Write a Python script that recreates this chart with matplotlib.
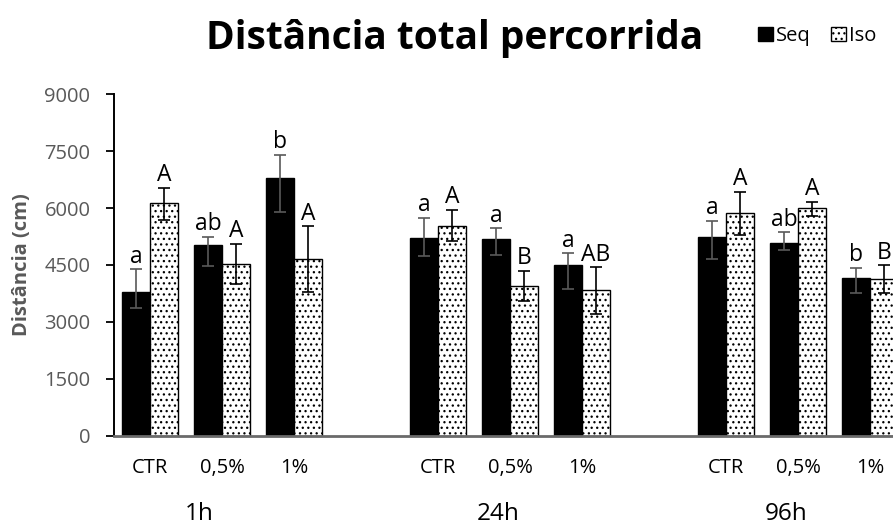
import matplotlib
matplotlib.use("Agg")
import matplotlib.pyplot as plt
import matplotlib.transforms as mtransforms
from matplotlib.patches import Patch
import numpy as np

plt.rcParams['font.family'] = ['Open Sans', 'DejaVu Sans']
plt.rcParams['hatch.linewidth'] = 0.9
plt.rcParams['hatch.color'] = 'black'

# ---- data ----
groups = ['1h', '24h', '96h']
doses = ['CTR', '0,5%', '1%']

seq_mean = [3800, 5020, 6790, 5200, 5180, 4490, 5230, 5090, 4170]
seq_err_low = [440, 540, 880, 460, 410, 630, 580, 200, 400]
seq_err_high = [590, 230, 610, 540, 290, 320, 440, 270, 260]
seq_letters = ['a', 'ab', 'b', 'a', 'a', 'a', 'a', 'ab', 'b']

iso_mean = [6130, 4530, 4660, 5530, 3950, 3840, 5860, 5990, 4120]
iso_err_low = [440, 520, 870, 410, 390, 630, 570, 190, 370]
iso_err_high = [410, 520, 860, 420, 390, 600, 570, 180, 370]
iso_letters = ['A', 'A', 'A', 'A', 'B', 'AB', 'A', 'A', 'B']

y_ticks = [0, 1500, 3000, 4500, 6000, 7500, 9000]

# ---- layout ----
W, H = 893, 527
fig = plt.figure(figsize=(W / 100, H / 100), dpi=100)
cat_px = 72.0
left_px, bottom_px, top_px = 114.0, 435.7, 94.3
n_slots = 11
ax = fig.add_axes([left_px / W, (H - bottom_px) / H,
                   n_slots * cat_px / W, (bottom_px - top_px) / H])

pos = np.array([g * 4 + i for g in range(len(groups)) for i in range(len(doses))], dtype=float)
bw = 0.385

ax.bar(pos - bw / 2, seq_mean, width=bw, color='black', edgecolor='black',
       linewidth=1.0, zorder=2)
ax.bar(pos + bw / 2, iso_mean, width=bw, color='white', edgecolor='black',
       linewidth=1.0, hatch='...', zorder=2)

ax.errorbar(pos - bw / 2, seq_mean, yerr=[seq_err_low, seq_err_high], fmt='none',
            ecolor='#595959', elinewidth=1.2, capsize=4.2, capthick=1.2, zorder=3)
ax.errorbar(pos + bw / 2, iso_mean, yerr=[iso_err_low, iso_err_high], fmt='none',
            ecolor='black', elinewidth=1.2, capsize=4.2, capthick=1.2, zorder=3)

gap = 175
for x, m, e, t in zip(pos - bw / 2, seq_mean, seq_err_high, seq_letters):
    ax.text(x, m + e + gap, t, ha='center', va='baseline', fontsize=16.5, color='black',
            clip_on=False)
for x, m, e, t in zip(pos + bw / 2, iso_mean, iso_err_high, iso_letters):
    ax.text(x, m + e + gap, t, ha='center', va='baseline', fontsize=16.5, color='black',
            clip_on=False)

ax.set_xlim(-0.5, n_slots - 0.5)
ax.set_ylim(0, 9000)

ax.set_xticks(pos)
ax.set_xticklabels(doses * len(groups), fontsize=14.5, color='black')
ax.tick_params(axis='x', length=0, pad=16)

ax.set_yticks(y_ticks)
ax.set_yticklabels([str(v) for v in y_ticks], fontsize=14.5, color='#595959')
ax.tick_params(axis='y', direction='out', length=6, width=1.3, color='black', pad=11)

for s in ['top', 'right']:
    ax.spines[s].set_visible(False)
ax.spines['left'].set_linewidth(1.4)
ax.spines['left'].set_color('black')
ax.spines['bottom'].set_linewidth(2.0)
ax.spines['bottom'].set_color('#6a6a6a')
ax.spines['bottom'].set_zorder(4)

ax.set_ylabel('Distância (cm)', fontsize=14.5, fontweight='bold', color='#595959')
ax.yaxis.set_label_coords(-(left_px - 32) / (n_slots * cat_px), 0.5)

# group labels
trans = mtransforms.blended_transform_factory(ax.transData, fig.transFigure)
group_x = [0.69, 4.83, 8.84]
for gx, g in zip(group_x, groups):
    ax.text(gx, 1 - 514 / H, g, transform=trans, ha='center', va='center',
            fontsize=17.5, color='black', clip_on=False)

fig.text(455 / W, 1 - 38 / H, 'Distância total percorrida', ha='center', va='center',
         fontsize=28, fontweight='bold', color='black')

handles = [Patch(facecolor='black', edgecolor='black', label='Seq'),
           Patch(facecolor='white', edgecolor='black', hatch='...', label='Iso')]
fig.legend(handles=handles, loc='center left', bbox_to_anchor=(758 / W, 1 - 36 / H),
           ncol=2, frameon=False, fontsize=14.5, handlelength=0.75, handleheight=0.75,
           handletextpad=0.15, columnspacing=1.0, borderpad=0, borderaxespad=0)

fig.savefig('out.png', dpi=100)
